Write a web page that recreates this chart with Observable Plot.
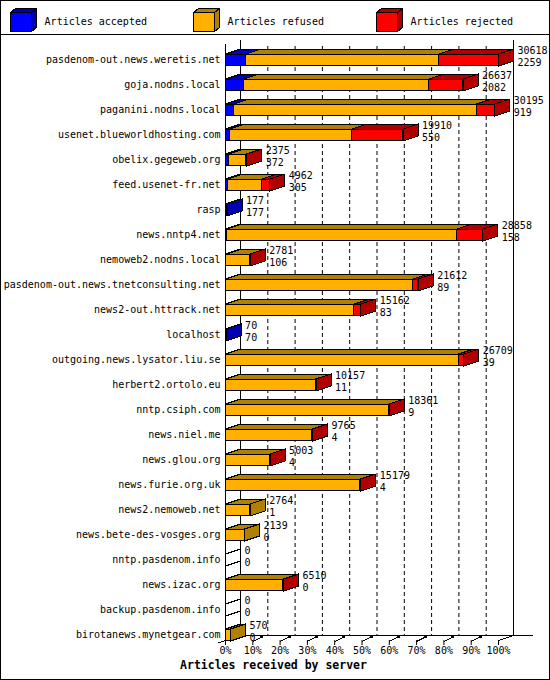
<!DOCTYPE html>
<html>
<head>
<meta charset="utf-8">
<script src="https://cdn.jsdelivr.net/npm/d3@7"></script>
<script src="https://cdn.jsdelivr.net/npm/@observablehq/plot@0.6"></script>
<style>
  html, body { margin: 0; padding: 0; background: #fff; }
  #frame { position: relative; width: 550px; height: 680px; border: 1px solid #000; box-sizing: border-box; background: #fff; overflow: hidden; }
  #legend { height: 33px; border-bottom: 1px solid #000; }
  #legend svg, #chart svg { display: block; }
  #caption { height: 22px; line-height: 19px; text-align: center; padding-right: 3px;
    font-family: "DejaVu Sans Mono", monospace; font-weight: bold; font-size: 11.5px; color: #000; }
</style>
</head>
<body>
<div id="frame">
  <div id="legend"></div>
  <div id="chart"></div>
  <div id="caption"></div>
</div>
<script>
const names = [
  "pasdenom-out.news.weretis.net",
  "goja.nodns.local",
  "paganini.nodns.local",
  "usenet.blueworldhosting.com",
  "obelix.gegeweb.org",
  "feed.usenet-fr.net",
  "rasp",
  "news.nntp4.net",
  "nemoweb2.nodns.local",
  "pasdenom-out.news.tnetconsulting.net",
  "news2-out.httrack.net",
  "localhost",
  "outgoing.news.lysator.liu.se",
  "herbert2.ortolo.eu",
  "nntp.csiph.com",
  "news.niel.me",
  "news.glou.org",
  "news.furie.org.uk",
  "news2.nemoweb.net",
  "news.bete-des-vosges.org",
  "nntp.pasdenom.info",
  "news.izac.org",
  "backup.pasdenom.info",
  "birotanews.mynetgear.com"
];
const totals   = [30618, 26637, 30195, 19910, 2375, 4962, 177, 28858, 2781, 21612, 15162, 70, 26709, 10157, 18361, 9765, 5003, 15179, 2764, 2139, 0, 6510, 0, 570];
const accepted = [2259, 2082, 919, 550, 372, 305, 177, 158, 106, 89, 83, 70, 39, 11, 9, 4, 4, 4, 1, 0, 0, 0, 0, 0];
const refused  = [21648, 20706, 27239, 13624, 1973, 3756, 0, 25829, 2655, 20909, 14379, 0, 26105, 10096, 18322, 9721, 4969, 15135, 2763, 2139, 0, 6480, 0, 570];
const rejected = [6711, 3849, 2037, 5736, 30, 901, 0, 2871, 20, 614, 700, 0, 565, 50, 30, 40, 30, 40, 0, 0, 0, 30, 0, 0];

const seriesLabels = ["Articles accepted", "Articles refused", "Articles rejected"];
const frontColors = ["#0000ff", "#ffb000", "#ff0000"];
const darkColors  = ["#0000b0", "#b08000", "#b00000"];
const xTicks = [0, 10, 20, 30, 40, 50, 60, 70, 80, 90, 100];
const gridTicks = [10, 20, 30, 40, 50, 60, 70, 80, 90];
const axisTitle = "Articles received by server";

const DX = 15, DY = 5, INSET = 6.5;
const FONT = "DejaVu Sans Mono";

const maxTotal = d3.max(totals);
const series = [accepted, refused, rejected];
const segs = [];
names.forEach((name, i) => {
  let c = 0;
  series.forEach((arr, k) => {
    const p = arr[i] / maxTotal * 100;
    if (arr[i] > 0) segs.push({name, k, x1: c, x2: c + p, front: frontColors[k], dark: darkColors[k]});
    c += p;
  });
});
const rows = names.map((name, i) => ({name, total: totals[i], acc: accepted[i], pct: totals[i] / maxTotal * 100}));

// ---------- legend ----------
const leg = d3.select("#legend").append("svg").attr("width", 548).attr("height", 33);
seriesLabels.forEach((lab, k) => {
  const gx = 9 + 183 * k;
  const g = leg.append("g").attr("transform", `translate(${gx},0)`);
  const cube = g.append("g").attr("stroke", "#000").attr("shape-rendering", "crispEdges");
  const P = pts => pts.map(p => p.map(v => v + 0.5).join(",")).join(" ");
  cube.append("polygon").attr("points", P([[0, 11], [21, 11], [26, 7], [5, 7]])).attr("fill", darkColors[k]);
  cube.append("polygon").attr("points", P([[21, 11], [26, 7], [26, 26], [21, 30]])).attr("fill", darkColors[k]);
  cube.append("rect").attr("x", 0.5).attr("y", 11.5).attr("width", 21).attr("height", 19).attr("fill", frontColors[k]);
  g.append("text").attr("x", 34.6).attr("y", 24).attr("font-family", FONT).attr("font-size", 10).attr("fill", "#000").text(lab);
});

// ---------- custom 3D marks ----------
function walls(index, {x}, values, {height, marginBottom}) {
  const yb = height - marginBottom;
  const g = d3.create("svg:g").attr("stroke", "#000").attr("fill", "none").attr("shape-rendering", "crispEdges");
  const line = (x1, y1, x2, y2) => g.append("line")
    .attr("x1", x1 + 0.5).attr("y1", y1 + 0.5).attr("x2", x2 + 0.5).attr("y2", y2 + 0.5);
  line(x(0) + DX, yb - DY, x(100) + DX + 19, yb - DY);
  line(x(0) - 7, yb + 2.3, x(0) + DX, yb - DY);
  line(x(100), yb, x(100) + DX, yb - DY);
  for (const t of gridTicks) {
    line(x(t), yb + 1, x(t) + 8, yb - 3);
    g.append("rect").attr("x", x(t) + 8).attr("y", yb - 5).attr("width", 3).attr("height", 3)
      .attr("fill", "#000").attr("stroke", "none");
  }
  return g.node();
}

function faces(index, {x, y}) {
  const bw = y.bandwidth ? y.bandwidth() : 25;
  const g = d3.create("svg:g").attr("stroke", "#000").attr("shape-rendering", "crispEdges");
  const poly = (pts, fill) => g.append("polygon")
    .attr("points", pts.map(p => p.map(v => v + 0.5).join(",")).join(" "))
    .attr("fill", fill);
  for (const row of rows) {
    const t = y(row.name) + INSET, b = y(row.name) + bw - INSET;
    const rs = segs.filter(s => s.name === row.name);
    if (!rs.length) {
      const x0 = x(0);
      poly([[x0, t], [x0 + DX, t - DY], [x0 + DX, b - DY], [x0, b]], "none");
      continue;
    }
    for (const s of rs) {
      const a = x(s.x1), e = x(s.x2);
      poly([[a, t], [e, t], [e + DX, t - DY], [a + DX, t - DY]], s.dark);
    }
    const last = rs[rs.length - 1];
    const e = x(last.x2);
    poly([[e, t], [e + DX, t - DY], [e + DX, b - DY], [e, b]], last.dark);
  }
  return g.node();
}

// ---------- chart ----------
const chart = Plot.plot({
  width: 548,
  height: 621,
  marginLeft: 224,
  marginRight: 51,
  marginTop: 11,
  marginBottom: 16,
  style: {fontFamily: FONT, fontSize: "10px", background: "white", color: "black", overflow: "visible"},
  x: {domain: [0, 100]},
  y: {domain: names, range: [11.5, 611.5], padding: 0},
  marks: [
    Plot.ruleX(gridTicks, {dx: DX, insetBottom: DY, strokeDasharray: "4,3", stroke: "black"}),
    Plot.ruleX([0, 100], {dx: DX, insetTop: -6, insetBottom: DY, stroke: "black"}),
    Plot.ruleX([0], {insetTop: -2, stroke: "black"}),
    walls,
    Plot.barX(segs, {
      x1: "x1", x2: "x2", y: "name",
      fill: d => d.front, stroke: "black", strokeWidth: 1,
      insetTop: INSET, insetBottom: INSET, shapeRendering: "crispEdges"
    }),
    faces,
    Plot.axisY({tickSize: 0, tickPadding: 5, label: null, fontSize: 10}),
    Plot.axisX({ticks: xTicks, tickFormat: d => d + "%", tickSize: 5, tickPadding: 1, label: null, fontSize: 10}),
    Plot.text(rows, {x: "pct", y: "name", text: d => String(d.total), dx: 19, dy: -9, textAnchor: "start", fontSize: 10}),
    Plot.text(rows, {x: "pct", y: "name", text: d => String(d.acc), dx: 19, dy: 2.5, textAnchor: "start", fontSize: 10})
  ]
});
document.getElementById("chart").appendChild(chart);
document.getElementById("caption").textContent = axisTitle;
</script>
</body>
</html>
